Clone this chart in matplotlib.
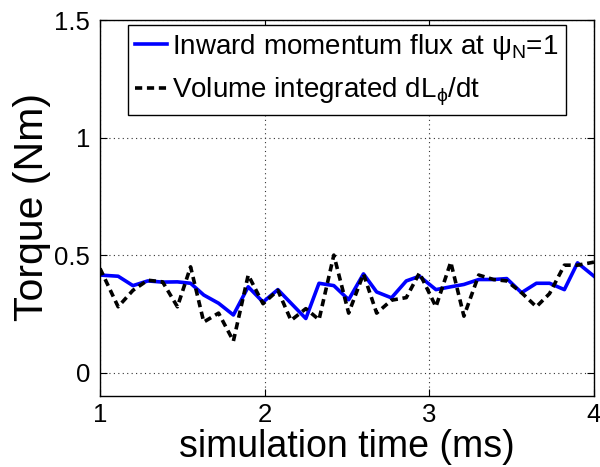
import matplotlib
matplotlib.use("Agg")
import matplotlib.pyplot as plt

plt.rcParams['font.family'] = ['Liberation Sans', 'DejaVu Sans']
plt.rcParams['mathtext.fontset'] = 'custom'
plt.rcParams['mathtext.rm'] = 'Liberation Sans'
plt.rcParams['mathtext.it'] = 'Liberation Sans'

time_ms = [1.00, 1.11, 1.20, 1.29, 1.38, 1.47, 1.55, 1.63, 1.72, 1.81, 1.90, 1.99,
           2.08, 2.16, 2.25, 2.33, 2.42, 2.51, 2.60, 2.68, 2.77, 2.86, 2.94, 3.04,
           3.13, 3.21, 3.30, 3.39, 3.47, 3.56, 3.65, 3.73, 3.82, 3.90, 4.00]
flux = [0.415, 0.41, 0.37, 0.39, 0.385, 0.386, 0.38, 0.33, 0.295, 0.245, 0.365, 0.30,
        0.353, 0.295, 0.23, 0.38, 0.37, 0.31, 0.42, 0.343, 0.318, 0.39, 0.41, 0.353,
        0.365, 0.375, 0.396, 0.396, 0.40, 0.34, 0.38, 0.38, 0.353, 0.467, 0.41]
dLdt = [0.443, 0.28, 0.35, 0.393, 0.386, 0.28, 0.45, 0.215, 0.253, 0.134, 0.415, 0.293,
        0.35, 0.222, 0.272, 0.225, 0.50, 0.253, 0.42, 0.253, 0.308, 0.319, 0.424, 0.28,
        0.47, 0.24, 0.415, 0.396, 0.39, 0.34, 0.28, 0.336, 0.457, 0.457, 0.47]

fig = plt.figure(figsize=(6.0, 4.67), dpi=100)
ax = fig.add_axes([0.1667, 0.152, 0.8233, 0.8047])

ax.plot(time_ms, flux, color='#0000ff', lw=2.6, label=r'Inward momentum flux at $\psi_{\rm N}$=1')
ax.plot(time_ms, dLdt, color='black', lw=2.6, ls=(0, (2.0, 1.3)), label=r'Volume integrated dL$_{\phi}$/dt')

ax.set_xlim(1, 4)
ax.set_ylim(-0.1, 1.5)
ax.set_xticks([1, 2, 3, 4])
ax.set_xticklabels(['1', '2', '3', '4'])
ax.set_yticks([0, 0.5, 1, 1.5])
ax.set_yticklabels(['0', '0.5', '1', '1.5'])
ax.grid(True, color='#333333', ls=(0, (1, 3)), lw=0.8)
ax.tick_params(direction='in', labelsize=18.5, length=5, width=0.8, top=True, right=True)
ax.tick_params(axis='x', pad=5)
ax.tick_params(axis='y', pad=7)
for s in ax.spines.values():
    s.set_linewidth(1.0)

ax.set_xlabel('simulation time (ms)', fontsize=27)
ax.xaxis.label.set_va('baseline')
ax.xaxis.set_label_coords(0.5, -0.162)
ax.set_ylabel('Torque (Nm)', fontsize=29.5)
ax.yaxis.label.set_va('baseline')
ax.yaxis.set_label_coords(-0.115, 0.502)

leg = ax.legend(loc='upper left', bbox_to_anchor=(0.0567, 0.987), fontsize=20,
                handlelength=1.15, handletextpad=0.2, borderpad=0.25, labelspacing=0.5,
                borderaxespad=0.0,
                frameon=True, fancybox=False, framealpha=1, edgecolor='black')
leg.get_frame().set_linewidth(1.0)

fig.savefig('out.png', dpi=100)
